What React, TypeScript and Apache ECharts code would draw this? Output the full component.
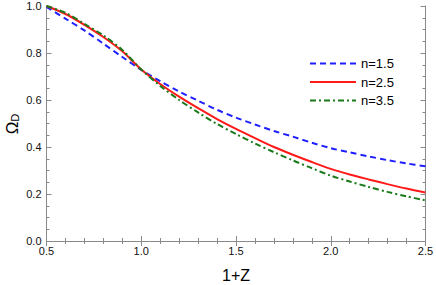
import React, { useEffect, useRef } from "react";
import * as echarts from "echarts";

const xValues = [0.5, 0.6, 0.7, 0.8, 0.9, 1.0, 1.1, 1.2, 1.3, 1.4, 1.5, 1.6, 1.7, 1.8, 1.9, 2.0, 2.1, 2.2, 2.3, 2.4, 2.5];
const n15 = [0.996, 0.946, 0.896, 0.840, 0.783, 0.728, 0.680, 0.636, 0.597, 0.558, 0.525, 0.496, 0.468, 0.444, 0.418, 0.395, 0.377, 0.360, 0.344, 0.330, 0.318];
const n25 = [1.0, 0.966, 0.920, 0.868, 0.807, 0.730, 0.668, 0.614, 0.565, 0.519, 0.477, 0.438, 0.400, 0.367, 0.336, 0.307, 0.283, 0.262, 0.242, 0.223, 0.206];
const n35 = [1.0, 0.971, 0.924, 0.875, 0.813, 0.730, 0.660, 0.600, 0.547, 0.498, 0.455, 0.415, 0.378, 0.343, 0.310, 0.278, 0.253, 0.230, 0.209, 0.190, 0.173];
const seriesNames = ["n=1.5", "n=2.5", "n=3.5"];
const xTitle = "1+Z";
const yTitle = "Ω{sub|D}";

export default function App() {
  const ref = useRef<HTMLDivElement>(null);
  useEffect(() => {
    if (!ref.current) return;
    const chart = echarts.init(ref.current, null, { renderer: "svg" });
    const font = "Liberation Sans, Arial, sans-serif";
    const axisCommon = {
      axisLine: { show: true, lineStyle: { color: "#8a8a8a", width: 1 } },
      splitLine: { show: false },
    };
    const pair = (d: number[]) => xValues.map((x, i) => [x, d[i]]);
    chart.setOption({
      animation: false,
      backgroundColor: "#ffffff",
      grid: { left: 46.5, right: 10.5, top: 6, bottom: 44, containLabel: false, outerBoundsMode: "none" },
      graphic: [
        {
          type: "text",
          x: 12,
          y: 124,
          rotation: Math.PI / 2,
          style: {
            text: yTitle,
            fontFamily: font,
            fontSize: 17,
            fill: "#000",
            align: "center",
            verticalAlign: "middle",
            rich: { sub: { fontFamily: font, fontSize: 11, fill: "#000", verticalAlign: "bottom", padding: [6, 0, 0, 0] } },
          },
        },
      ],
      legend: {
        orient: "vertical",
        left: 304,
        top: 52,
        itemWidth: 46,
        itemHeight: 12,
        itemGap: 5.5,
        itemStyle: { opacity: 0 },
        textStyle: { fontFamily: font, fontSize: 13, color: "#000" },
        data: seriesNames,
      },
      xAxis: [
        {
          type: "value",
          min: 0.5,
          max: 2.5,
          interval: 0.5,
          name: xTitle,
          nameLocation: "middle",
          nameGap: 26,
          nameTextStyle: { fontFamily: font, fontSize: 16, color: "#000" },
          ...axisCommon,
          axisTick: { show: true, inside: true, length: 5, lineStyle: { color: "#8a8a8a" } },
          minorTick: { show: true, splitNumber: 5, length: 3, lineStyle: { color: "#8a8a8a" } },
          axisLabel: {
            margin: 4,
            fontFamily: font,
            fontSize: 11,
            color: "#111",
            formatter: (v: number) => v.toFixed(1),
          },
        },
        {
          type: "value",
          position: "top",
          min: 0.5,
          max: 2.5,
          interval: 0.5,
          ...axisCommon,
          axisTick: { show: true, inside: true, length: 5, lineStyle: { color: "#8a8a8a" } },
          minorTick: { show: true, splitNumber: 5, length: 3, lineStyle: { color: "#8a8a8a" } },
          axisLabel: { show: false },
        },
      ],
      yAxis: [
        {
          type: "value",
          min: 0,
          max: 1,
          interval: 0.2,
          ...axisCommon,
          axisTick: { show: true, inside: true, length: 5, lineStyle: { color: "#8a8a8a" } },
          minorTick: { show: true, splitNumber: 4, length: 3, lineStyle: { color: "#8a8a8a" } },
          axisLabel: {
            margin: 5,
            fontFamily: font,
            fontSize: 11,
            color: "#111",
            formatter: (v: number) => v.toFixed(1),
          },
        },
        {
          type: "value",
          position: "right",
          min: 0,
          max: 1,
          interval: 0.2,
          ...axisCommon,
          axisTick: { show: true, inside: true, length: 5, lineStyle: { color: "#8a8a8a" } },
          minorTick: { show: true, splitNumber: 4, length: 3, lineStyle: { color: "#8a8a8a" } },
          axisLabel: { show: false },
        },
      ],
      series: [
        {
          name: seriesNames[0],
          type: "line",
          data: pair(n15),
          smooth: 0.3,
          showSymbol: false,
          symbol: "none",
          color: "#1f1fff",
          lineStyle: { color: "#1f1fff", width: 2, type: [6, 4] },
        },
        {
          name: seriesNames[1],
          type: "line",
          data: pair(n25),
          smooth: 0.3,
          showSymbol: false,
          symbol: "none",
          color: "#ff1a1a",
          lineStyle: { color: "#ff1a1a", width: 2, type: "solid" },
        },
        {
          name: seriesNames[2],
          type: "line",
          data: pair(n35),
          smooth: 0.3,
          showSymbol: false,
          symbol: "none",
          color: "#1a7a1a",
          lineStyle: { color: "#1a7a1a", width: 2, type: [6, 3, 2, 3] },
        },
      ],
    });
    return () => chart.dispose();
  }, []);
  return <div ref={ref} style={{ width: 436, height: 285, position: "absolute", left: 0, top: 0 }} />;
}
